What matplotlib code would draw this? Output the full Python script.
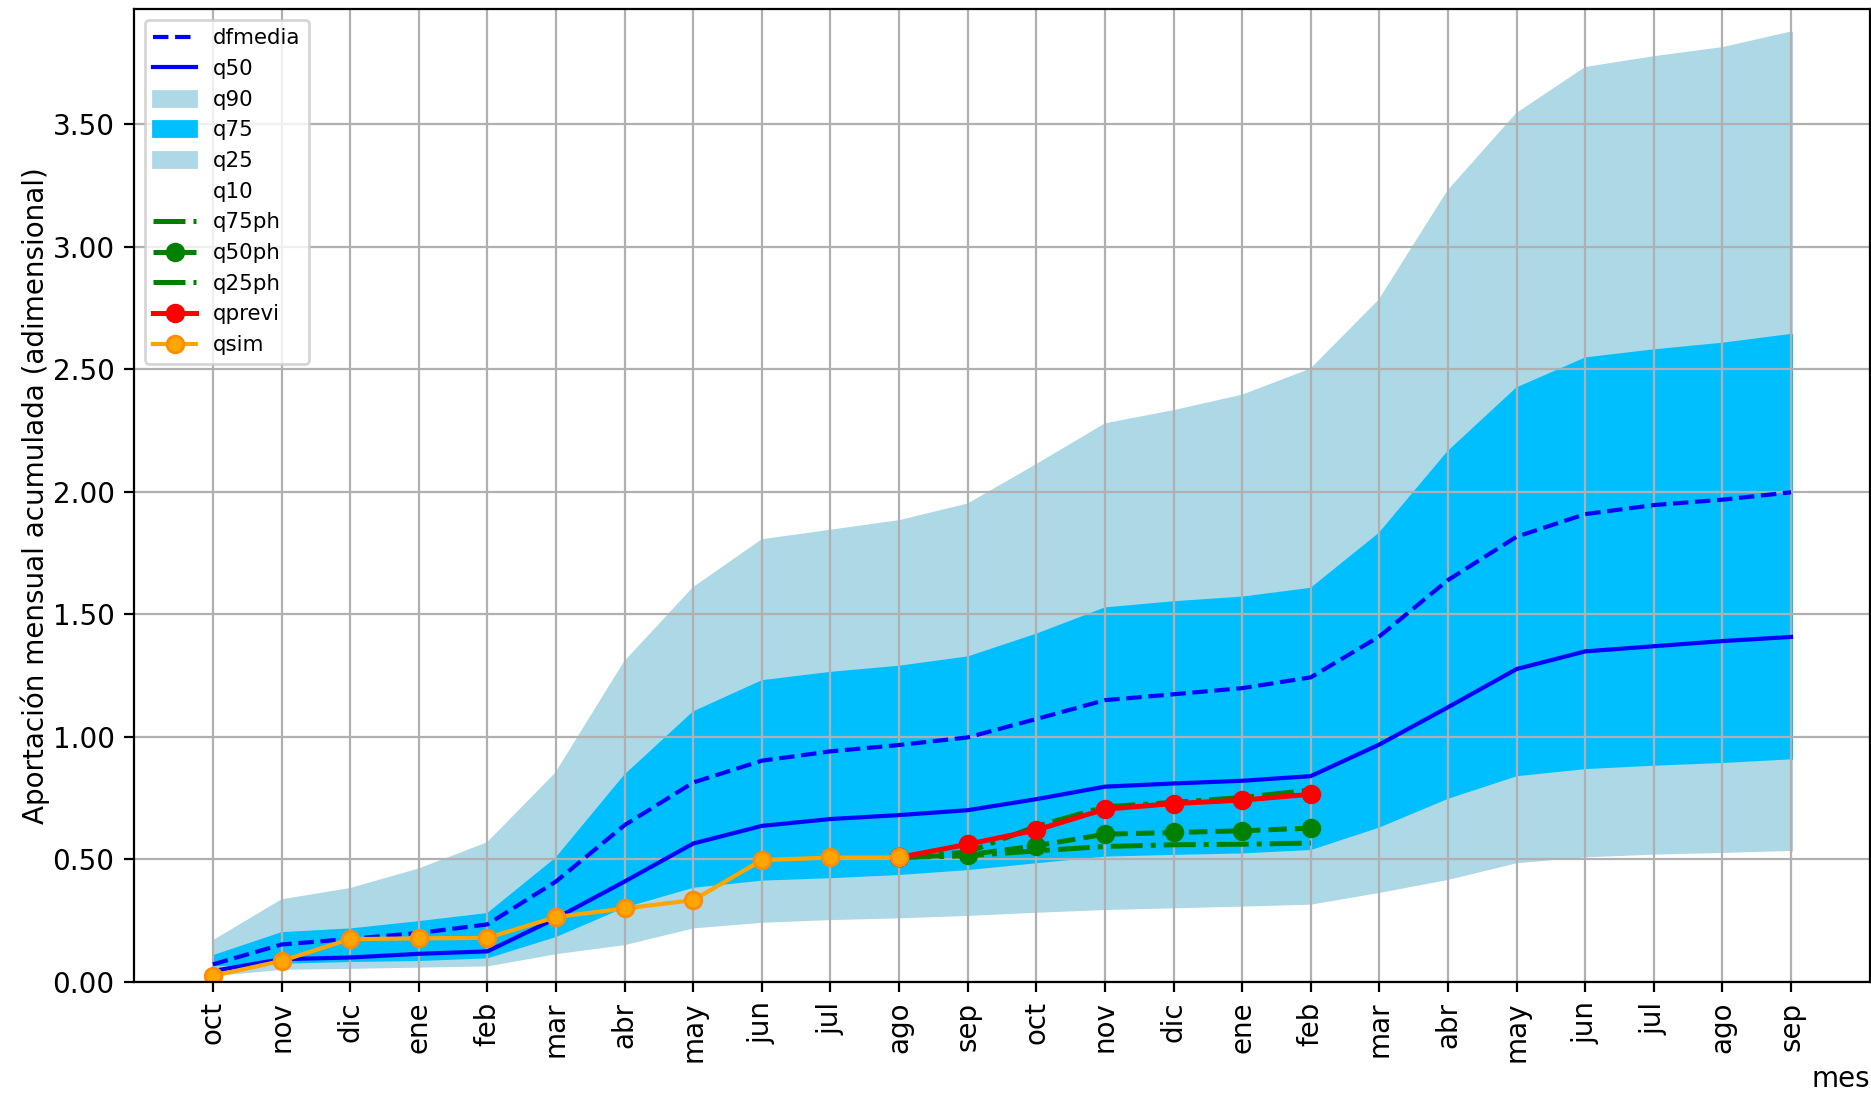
import numpy as np
import matplotlib
matplotlib.use('Agg')
import matplotlib.pyplot as plt
import matplotlib.ticker as mticker

# meses (dos anios hidrologicos)
meses = ['oct', 'nov', 'dic', 'ene', 'feb', 'mar', 'abr', 'may', 'jun', 'jul', 'ago', 'sep',
         'oct', 'nov', 'dic', 'ene', 'feb', 'mar', 'abr', 'may', 'jun', 'jul', 'ago', 'sep']

dfmedia = [0.072, 0.153, 0.176, 0.200, 0.235, 0.410, 0.640, 0.814, 0.903, 0.941, 0.967, 0.998,
           1.073, 1.150, 1.174, 1.199, 1.243, 1.410, 1.640, 1.817, 1.909, 1.946, 1.968, 1.998]
q50 = [0.045, 0.093, 0.100, 0.115, 0.125, 0.260, 0.410, 0.565, 0.637, 0.665, 0.681, 0.701,
       0.746, 0.797, 0.810, 0.821, 0.840, 0.969, 1.121, 1.277, 1.349, 1.370, 1.391, 1.408]
q90 = [0.167, 0.334, 0.380, 0.460, 0.567, 0.853, 1.306, 1.608, 1.803, 1.842, 1.881, 1.949,
       2.110, 2.276, 2.330, 2.393, 2.500, 2.783, 3.228, 3.543, 3.730, 3.774, 3.811, 3.875]
q75 = [0.106, 0.200, 0.215, 0.245, 0.278, 0.505, 0.843, 1.101, 1.228, 1.262, 1.287, 1.325,
       1.418, 1.525, 1.550, 1.569, 1.605, 1.831, 2.164, 2.423, 2.545, 2.578, 2.605, 2.641]
q25 = [0.060, 0.071, 0.078, 0.082, 0.093, 0.180, 0.300, 0.381, 0.410, 0.420, 0.433, 0.453,
       0.481, 0.508, 0.515, 0.521, 0.535, 0.627, 0.744, 0.836, 0.865, 0.879, 0.890, 0.905]
q10 = [0.020, 0.046, 0.050, 0.055, 0.060, 0.110, 0.147, 0.215, 0.238, 0.249, 0.256, 0.266,
       0.279, 0.290, 0.297, 0.304, 0.312, 0.360, 0.413, 0.481, 0.505, 0.516, 0.523, 0.531]

nan = np.nan
q75ph = [nan] * 10 + [0.508, 0.530, 0.635, 0.715, 0.733, 0.753, 0.783] + [nan] * 7
q50ph = [nan] * 10 + [0.508, 0.519, 0.556, 0.603, 0.610, 0.617, 0.628] + [nan] * 7
q25ph = [nan] * 10 + [0.508, 0.515, 0.535, 0.553, 0.560, 0.562, 0.567] + [nan] * 7
qprevi = [nan] * 10 + [0.508, 0.562, 0.620, 0.705, 0.728, 0.742, 0.766] + [nan] * 7
qsim = [0.025, 0.086, 0.175, 0.178, 0.180, 0.265, 0.300, 0.334, 0.497, 0.508, 0.508] + [nan] * 13

x = np.arange(len(meses))

fig = plt.figure(figsize=(9.355, 5.475), dpi=200)
ax = fig.add_axes([134 / 1871, 1 - 982 / 1095, 1736 / 1871, 973 / 1095])

ax.plot(x, dfmedia, '--', color='blue', lw=1.5, label='dfmedia')
ax.plot(x, q50, '-', color='blue', lw=1.5, label='q50')
ax.fill_between(x, q90, color='lightblue', label='q90')
ax.fill_between(x, q75, color='deepskyblue', label='q75')
ax.fill_between(x, q25, color='lightblue', label='q25')
ax.fill_between(x, q10, color='white', label='q10')
ax.plot(x, q75ph, '-.', color='green', lw=1.8, label='q75ph')
ax.plot(x, q50ph, '--', color='green', lw=1.8, marker='o', label='q50ph')
ax.plot(x, q25ph, '-.', color='green', lw=1.8, label='q25ph')
ax.plot(x, qprevi, '-', color='red', lw=1.8, marker='o', label='qprevi')
ax.plot(x, qsim, '-', color='orange', lw=1.5, marker='o', mec='darkorange', label='qsim')

ax.set_xticks(x)
ax.set_xticklabels(meses, rotation=90)
ax.set_ylim(0, 3.97)
ax.yaxis.set_major_formatter(mticker.FormatStrFormatter('%.2f'))
ax.grid(True)
ax.set_xlabel('mes', loc='right', labelpad=1)
ax.set_ylabel('Aportación mensual acumulada (adimensional)', labelpad=1)
ax.legend(loc='upper left', fontsize=7.7)

fig.savefig('out.png', dpi=200)
